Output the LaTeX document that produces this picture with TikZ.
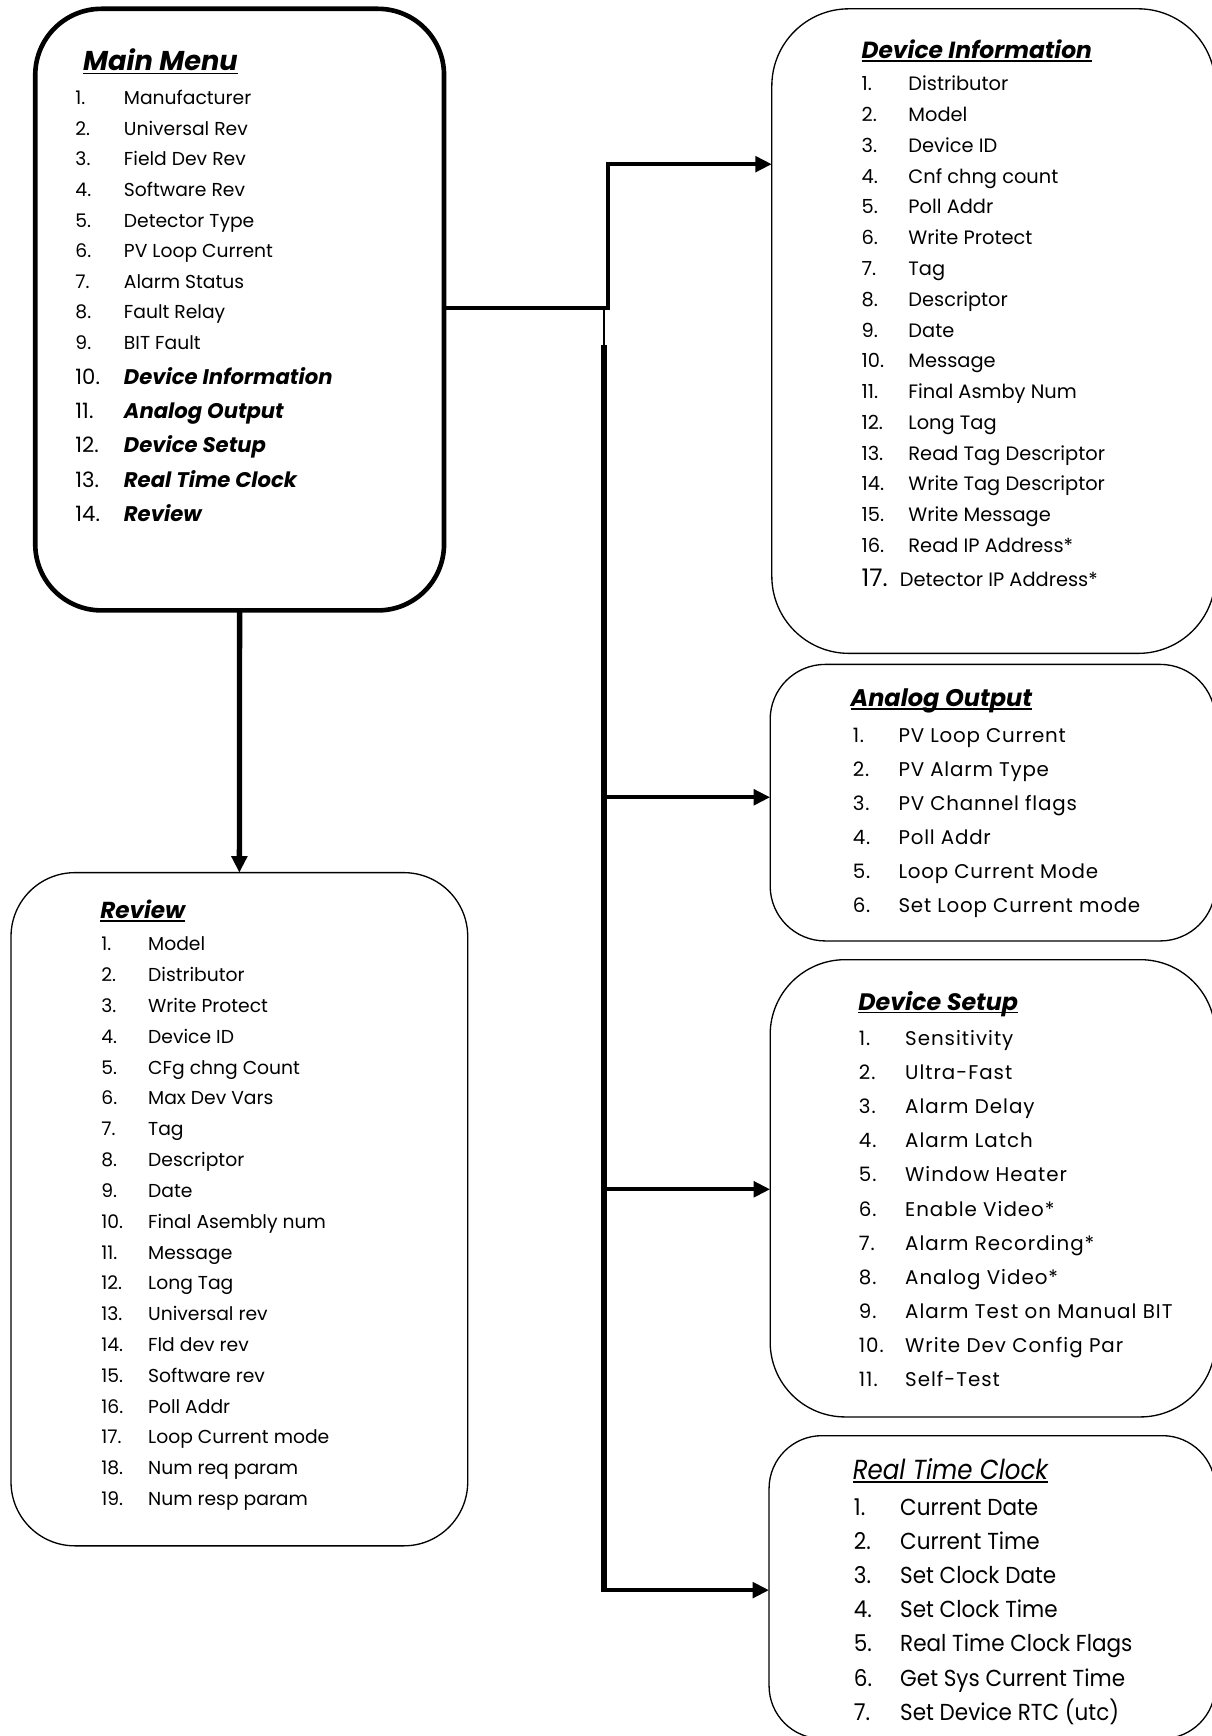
\documentclass[tikz,border=0pt]{standalone}
\usepackage{fontspec}
\setmainfont{Poppins}
\usetikzlibrary{arrows.meta}
\newcommand\myul[1]{\setbox0\hbox{#1}\rlap{\rule[-0.13em]{\wd0}{0.065em}}\box0}
\newcommand\myfs[1]{\fontsize{#1}{#1}\selectfont}
\begin{document}
\begin{tikzpicture}[x=1pt,y=-1pt,
  box/.style={draw, rounded corners=#1, line width=1.2pt, inner sep=0pt, outer sep=0pt},
  itm/.style={anchor=base west, inner sep=0pt, outer sep=0pt, yshift=2.5pt},
  ttlup/.style={yshift=1pt},
  conn/.style={line width=3.6pt},
  arr/.style={line width=3.8pt, -{Triangle[length=15pt,width=14pt]}},
  trunk/.style={line width=6pt}]
\useasboundingbox (0,0) rectangle (1100,1575.6);
\clip (0,0) rectangle (1100,1575.6);
% boxes
\node[box=60, line width=4.2pt, minimum width=371pt, minimum height=546pt] (main) at (217.5,281) {};
\node[box=70, minimum width=402.5pt, minimum height=585pt] (devinfo) at (901.75,300.5) {};
\node[box=50, minimum width=404pt, minimum height=251pt] (ao) at (901,728.5) {};
\node[box=68, minimum width=404pt, minimum height=415pt] (ds) at (901,1078.5) {};
\node[box=48, minimum width=405pt, minimum height=275pt] (rtc) at (900.5,1440.5) {};
\node[box=58, minimum width=414.5pt, minimum height=611pt] (review) at (217.25,1097.5) {};
% connectors
\coordinate (j1) at (551.8,279.5);
\coordinate (j1t) at (551.8,149);
\coordinate (t0) at (548.2,279.5);
\coordinate (t1) at (548.2,313);
\coordinate (bao) at (548.2,723.6);
\coordinate (bds) at (548.2,1079.4);
\coordinate (brtc) at (548.2,1443.2);
\draw[conn] (main.east |- j1) -- (j1) -- (j1t);
\draw[arr, line width=3.6pt] ([xshift=-1.8pt]j1t) -- (devinfo.west |- j1t);
\draw[line width=2.2pt] (t0) -- (t1);
\draw[trunk] (t1) -- (brtc);
\draw[arr] ([xshift=-3pt]brtc) -- (rtc.west |- brtc);
\draw[arr] (bao) -- (ao.west |- bao);
\draw[arr] (bds) -- (ds.west |- bds);
\draw[arr, line width=4.8pt] (main.south) -- (review.north);
% Main menu
\node[itm, ttlup, font=\myfs{24.7}\bfseries\itshape] (mmt) at (75.5,67.8) {\myul{Main Menu}};
\foreach \t [count=\i] in {Manufacturer,Universal Rev,Field Dev Rev,Software Rev,Detector Type,PV Loop Current,Alarm Status,Fault Relay,BIT Fault}{
  \node[itm, font=\myfs{17}] (mmn\i) at (68.5,{97.6+27.74*(\i-1)}) {\i.};
  \node[itm, font=\myfs{17}] (mmi\i) at (112.5,{97.6+27.74*(\i-1)}) {\t};
}
\foreach \t [count=\i from 10] in {Device Information,Analog Output,Device Setup,Real Time Clock,Review}{
  \node[itm, font=\myfs{19.2}] (mmn\i) at (68.5,{351.1+31.16*(\i-10)}) {\i.};
  \node[itm, font=\myfs{19.2}\bfseries\itshape] (mmi\i) at (112.5,{351.1+31.16*(\i-10)}) {\t};
}
% Device information
\node[itm, ttlup, font=\myfs{21.2}\bfseries\itshape] (dit) at (782,56.6) {\myul{Device Information}};
\foreach \t [count=\i] in {Distributor,Model,Device ID,Cnf chng count,Poll Addr,Write Protect,Tag,Descriptor,Date,Message,Final Asmby Num,Long Tag,Read Tag Descriptor,Write Tag Descriptor,Write Message,Read IP Address*}{
  \node[itm, font=\myfs{17.6}] (din\i) at (782,{84.9+27.94*(\i-1)}) {\i.};
  \node[itm, font=\myfs{17.6}] (dii\i) at (824.5,{84.9+27.94*(\i-1)}) {\t};
}
\node[itm, font=\myfs{22}] (din17) at (782,535.1) {17.};
\node[itm, font=\myfs{17.6}] (dii17) at (816.7,535.1) {Detector IP Address*};
% Analog output
\node[itm, ttlup, font=\myfs{21.8}\bfseries\itshape] (aot) at (772,645) {\myul{Analog Output}};
\foreach \t [count=\i] in {PV Loop Current,PV Alarm Type,PV Channel flags,Poll Addr,Loop Current Mode,Set Loop Current mode}{
  \node[itm, font=\myfs{18}\addfontfeature{LetterSpace=4}] (aon\i) at (774,{676+30.95*(\i-1)}) {\i.};
  \node[itm, font=\myfs{18}\addfontfeature{LetterSpace=4}] (aoi\i) at (815.5,{676+30.95*(\i-1)}) {\t};
}
% Device setup
\node[itm, ttlup, font=\myfs{21.6}\bfseries\itshape] (dst) at (779,920.2) {\myul{Device Setup}};
\foreach \t [count=\i] in {Sensitivity,Ultra-Fast,Alarm Delay,Alarm Latch,Window Heater,Enable Video*,Alarm Recording*,Analog Video*,Alarm Test on Manual BIT,Write Dev Config Par,Self-Test}{
  \node[itm, font=\myfs{18}\addfontfeature{LetterSpace=5}] (dsn\i) at (779.5,{951.4+30.95*(\i-1)}) {\i.};
  \node[itm, font=\myfs{18}\addfontfeature{LetterSpace=5}] (dsi\i) at (821.5,{951.4+30.95*(\i-1)}) {\t};
}
% Real time clock
\node[itm, ttlup, yshift=1pt, font=\myfs{25}\itshape\addfontfeature{FakeStretch=0.89}] (rtct) at (774,1347) {\myul{Real Time Clock}};
\foreach \t [count=\i] in {Current Date,Current Time,Set Clock Date,Set Clock Time,Real Time Clock Flags,Get Sys Current Time,Set Device RTC (utc)}{
  \node[itm, yshift=1pt, font=\myfs{21}\addfontfeature{FakeStretch=0.93}] (rtcn\i) at (775,{1378.8+30.99*(\i-1)}) {\i.};
  \node[itm, yshift=1pt, font=\myfs{21}\addfontfeature{FakeStretch=0.93}] (rtci\i) at (817,{1378.8+30.99*(\i-1)}) {\t};
}
% Review
\node[itm, font=\myfs{21}\bfseries\itshape] (rvt) at (91,836.3) {\myul{Review}};
\foreach \t [count=\i] in {Model,Distributor,Write Protect,Device ID,CFg chng Count,Max Dev Vars,Tag,Descriptor,Date,Final Asembly num,Message,Long Tag,Universal rev,Fld dev rev,Software rev,Poll Addr,Loop Current mode,Num req param,Num resp param}{
  \node[itm, font=\myfs{17}] (rvn\i) at (92,{865.5+27.97*(\i-1)}) {\i.};
  \node[itm, font=\myfs{17}] (rvi\i) at (134.5,{865.5+27.97*(\i-1)}) {\t};
}
\end{tikzpicture}
\end{document}
